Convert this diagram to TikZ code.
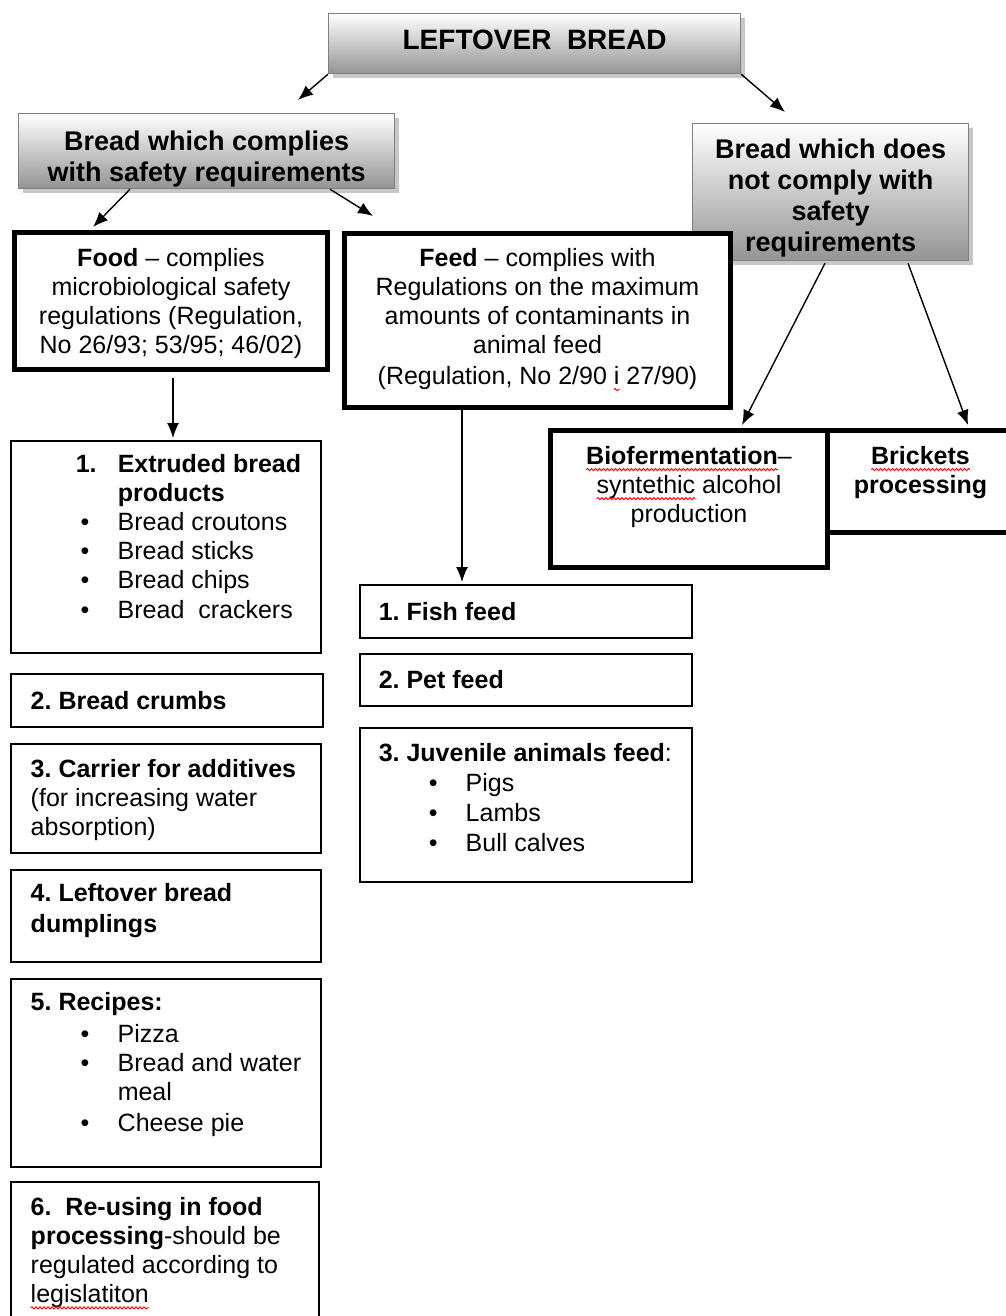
\documentclass[tikz,border=0pt]{standalone}
\usepackage{fontspec}
\setmainfont{Liberation Sans}
\usetikzlibrary{arrows.meta,shadows,decorations.pathmorphing}

\newlength{\spellwd}
\newcommand{\spellerr}[1]{\settowidth{\spellwd}{#1}\leavevmode\rlap{#1}%
  \tikz[baseline=0pt]{\useasboundingbox (0pt,0pt) rectangle (\spellwd,0pt);
    \draw[red, line width=0.9pt, decorate, decoration={snake,amplitude=1.1pt,segment length=4pt}]
      (0pt,-5pt) -- (\spellwd,-5pt);}}
\newcommand{\boxtxt}[5]{%
  \begin{minipage}[t][#2pt][t]{#1pt}\raggedright\frenchspacing\leftskip=#4pt\relax
  \vspace*{#3pt}#5\end{minipage}}
\newcommand{\bitem}[1]{\hspace*{50pt}\makebox[37pt][l]{\textbullet}#1}
\newcommand{\hang}[1]{\hspace*{87pt}#1}

\begin{document}
\begin{tikzpicture}[x=1pt,y=-1pt,
  headbox/.style={draw=black!50, line width=1.2pt, inner sep=0pt, anchor=north west,
    top color=white, bottom color=black!42,
    drop shadow={shadow xshift=4pt,shadow yshift=-4pt,fill=black,opacity=0.22},
    font=\fontsize{27}{31}\selectfont\bfseries},
  thickbox/.style={draw, line width=5pt, fill=white, inner sep=0pt, anchor=north west,
    font=\fontsize{25}{29}\selectfont},
  listbox/.style={draw, line width=1.5pt, fill=white, inner sep=0pt, anchor=north west,
    font=\fontsize{25}{29}\selectfont},
  arr/.style={line width=1.4pt, -{Latex[length=15pt,width=12pt]}}]
  \useasboundingbox (0,0) rectangle (1005,1316);

  \node[headbox, font=\fontsize{28}{32}\selectfont\bfseries] (leftover) at (328,13)
    {\boxtxt{412}{60}{16}{0}{\centering LEFTOVER\ \ BREAD}};
  \node[headbox] (comply) at (18,113)
    {\boxtxt{376}{75}{17}{0}{\centering Bread which complies\\with safety requirements}};
  \node[headbox] (nocomply) at (692,123)
    {\boxtxt{276}{137}{15}{0}{\centering Bread which does\\not comply with\\safety\\requirements}};

  \node[thickbox] (food) at (12,230)
    {\boxtxt{313}{137}{16}{0}{\centering\textbf{Food} -- complies\\microbiological safety\\regulations (Regulation,\\No 26/93; 53/95; 46/02)}};
  \node[thickbox] (feed) at (342,231)
    {\boxtxt{386}{174}{15}{0}{\centering\textbf{Feed} -- complies with\\Regulations on the maximum\\amounts of contaminants in\\animal feed\\[2pt](Regulation, No 2/90 \spellerr{i} 27/90)}};
  \node[thickbox] (biof) at (548,428)
    {\boxtxt{277}{137}{16}{0}{\centering\textbf{\spellerr{Biofermentation}}--\\\spellerr{syntethic} alcohol\\production}};
  \node[thickbox] (brick) at (825,428)
    {\boxtxt{186}{102}{16}{0}{\centering\textbf{\spellerr{Brickets}}\\\textbf{processing}}};

  \node[listbox] (extr) at (10,440)
    {\boxtxt{310}{212}{14}{20}{\hspace*{45pt}\makebox[42pt][l]{\textbf{1.}}\textbf{Extruded bread}\\
      \hang{\textbf{products}}\\\bitem{Bread croutons}\\\bitem{Bread sticks}\\\bitem{Bread chips}\\[1pt]\bitem{Bread\ \ crackers}}};
  \node[listbox] (crumb) at (10,673)
    {\boxtxt{312}{53}{18}{20}{\textbf{2. Bread crumbs}}};
  \node[listbox] (carrier) at (10,743)
    {\boxtxt{310}{109}{16}{20}{\textbf{3. Carrier for additives}\\(for increasing water\\absorption)}};
  \node[listbox] (dumpl) at (10,869)
    {\boxtxt{310}{92}{14}{20}{\textbf{4. Leftover bread}\\[2pt]\textbf{dumplings}}};
  \node[listbox] (recipe) at (10,978)
    {\boxtxt{310}{188}{14}{20}{\textbf{5. Recipes:}\\[3pt]\bitem{Pizza}\\\bitem{Bread and water}\\\hang{meal}\\[2pt]\bitem{Cheese pie}}};
  \node[listbox] (reuse) at (10,1181)
    {\boxtxt{308}{150}{16}{20}{\textbf{6.\ \ Re-using in food}\\\textbf{processing}-should be\\regulated according to\\\spellerr{legislatiton}}};

  \node[listbox] (fish) at (359,584)
    {\boxtxt{332}{53}{18}{19}{\textbf{1. Fish feed}}};
  \node[listbox] (pet) at (359,653)
    {\boxtxt{332}{52}{17}{19}{\textbf{2. Pet feed}}};
  \node[listbox] (juven) at (359,727)
    {\boxtxt{332}{154}{16}{19}{\textbf{3. Juvenile animals feed}:\\[1pt]\bitem{Pigs}\\[1pt]\bitem{Lambs}\\[1pt]\bitem{Bull calves}}};

  \draw[arr] (leftover.south west) -- ([xshift=280pt,yshift=13pt]comply.north west);
  \draw[arr] (leftover.south east) -- ([xshift=93pt,yshift=11pt]nocomply.north west);
  \draw[arr] ([xshift=112pt]comply.south west) -- ([xshift=81pt,yshift=3pt]food.north west);
  \draw[arr] ([xshift=312pt]comply.south west) -- ([xshift=31pt,yshift=15pt]feed.north west);
  \draw[arr] ([xshift=161pt,yshift=-6pt]food.south west) -- ([xshift=163pt,yshift=2pt]extr.north west);
  \draw[arr] ([xshift=120pt]feed.south west) -- ([xshift=103pt,yshift=2pt]fish.north west);
  \draw[arr] ([xshift=133pt,yshift=-2pt]nocomply.south west) -- ([xshift=194pt,yshift=3pt]biof.north west);
  \draw[arr] ([xshift=216pt,yshift=-2pt]nocomply.south west) -- ([xshift=143pt,yshift=3pt]brick.north west);
\end{tikzpicture}
\end{document}
